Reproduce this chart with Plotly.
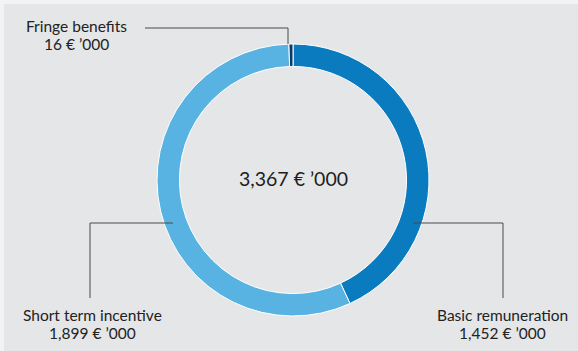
import plotly.graph_objects as go

# Remuneration components (€ '000)
components = ["Basic remuneration", "Short term incentive", "Fringe benefits"]
amounts = [1452, 1899, 16]
value_labels = ["1,452 € ’000", "1,899 € ’000", "16 € ’000"]
total_label = "3,367 € ’000"
colors = ["#0b7bc0", "#58b3e2", "#0c3866"]

W, H = 578, 351
BG = "#e5e6e7"
LINE = "#4a4a4a"
FONT = "Lato, 'Noto Sans', sans-serif"


def px(x):
    return x / W


def py(y):
    return 1 - y / H


# donut placement in pixels
cx, cy, r_out = 293, 180, 136

fig = go.Figure(
    go.Pie(
        labels=components,
        values=amounts,
        hole=0.835,
        sort=False,
        direction="clockwise",
        rotation=0,
        marker=dict(colors=colors, line=dict(color="white", width=1)),
        textinfo="none",
        hoverinfo="label+value",
        showlegend=False,
        domain=dict(x=[px(cx - r_out), px(cx + r_out)],
                    y=[py(cy + r_out), py(cy - r_out)]),
    )
)

shapes = [
    # grey panel
    dict(type="rect", xref="paper", yref="paper", layer="below",
         x0=px(4), x1=1, y0=0, y1=py(4), fillcolor=BG, line=dict(width=0)),
    # leader: fringe benefits
    dict(type="path", xref="paper", yref="paper",
         path=f"M {px(145)} {py(28)} L {px(288)} {py(28)} L {px(288)} {py(44)}",
         line=dict(color=LINE, width=1)),
    # leader: short term incentive
    dict(type="path", xref="paper", yref="paper",
         path=f"M {px(173)} {py(223)} L {px(90)} {py(223)} L {px(90)} {py(298)}",
         line=dict(color=LINE, width=1)),
    # leader: basic remuneration
    dict(type="path", xref="paper", yref="paper",
         path=f"M {px(413)} {py(223)} L {px(503)} {py(223)} L {px(503)} {py(298)}",
         line=dict(color=LINE, width=1)),
]

label_pos = {
    "Fringe benefits": (77, 26),
    "Short term incentive": (92, 315),
    "Basic remuneration": (502, 315),
}

annotations = [
    dict(text=total_label, x=px(cx), y=py(178), xref="paper", yref="paper",
         xanchor="center", yanchor="middle", showarrow=False,
         font=dict(size=19.5, color="#1e1e1e", family=FONT))
]
for name, val in zip(components, value_labels):
    x, y = label_pos[name]
    for i, txt in enumerate([name, val]):
        annotations.append(dict(text=txt, x=px(x), y=py(y + 18 * i),
                                xref="paper", yref="paper",
                                xanchor="center", yanchor="middle", showarrow=False,
                                font=dict(size=15.5, color="#222", family=FONT)))

fig.update_layout(
    width=W, height=H,
    margin=dict(l=0, r=0, t=0, b=0),
    paper_bgcolor="#f3f3f3",
    plot_bgcolor=BG,
    shapes=shapes,
    annotations=annotations,
)

fig.write_html("out.html")
